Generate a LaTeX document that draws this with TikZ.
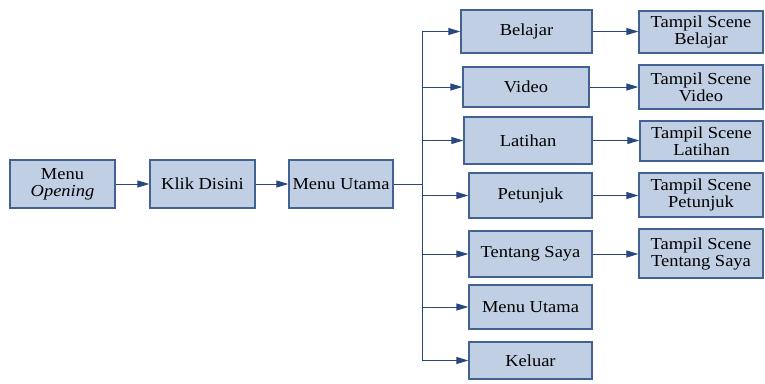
\documentclass[tikz,border=0pt]{standalone}
\usepackage{fontspec}
\setmainfont{Liberation Serif}[FakeStretch=1.1]
\usepackage{tikz}
\usetikzlibrary{arrows.meta}

\definecolor{boxfill}{RGB}{192,207,227}
\definecolor{boxline}{RGB}{66,98,145}
\definecolor{arrline}{RGB}{40,72,125}

\tikzset{
    menubox/.style={draw=boxline, fill=boxfill, line width=1.3pt, align=center,
        inner sep=0pt, font=\fontsize{16.8}{17}\selectfont},
    flow/.style={draw=arrline, line width=1pt, ->},
    >={Triangle[length=12pt,width=7pt]}
}

\begin{document}
\begin{tikzpicture}[x=1pt, y=-1pt]
        \useasboundingbox (0,0) rectangle (765,383);
        \node[menubox, minimum width=105pt, minimum height=48pt] (opening) at (62.5,184) {Menu\\\textit{Opening}};
        \node[menubox, minimum width=105pt, minimum height=48pt] (klik) at (202.5,184) {Klik Disini};
        \node[menubox, minimum width=104pt, minimum height=48pt] (utama) at (341,184) {Menu Utama};
        \node[menubox, minimum width=131pt, minimum height=43pt] (belajar) at (526.5,31.5) {Belajar};
        \node[menubox, minimum width=126pt, minimum height=40pt] (video) at (526,87) {Video};
        \node[menubox, minimum width=128pt, minimum height=47pt] (latihan) at (528,140.5) {Latihan};
        \node[menubox, minimum width=123pt, minimum height=45pt] (petunjuk) at (530.5,195.5) {Petunjuk};
        \node[menubox, minimum width=123pt, minimum height=46pt] (tentang) at (530.5,254) {Tentang Saya};
        \node[menubox, minimum width=123pt, minimum height=44pt] (utamadua) at (530.5,307) {Menu Utama};
        \node[menubox, minimum width=123pt, minimum height=37pt] (keluar) at (530.5,360.5) {Keluar};
        \node[menubox, minimum width=124pt, minimum height=42pt] (sbelajar) at (701,32) {Tampil Scene\\Belajar};
        \node[menubox, minimum width=124pt, minimum height=44pt] (svideo) at (701,87) {Tampil Scene\\Video};
        \node[menubox, minimum width=123pt, minimum height=40pt] (slatihan) at (701.5,141) {Tampil Scene\\Latihan};
        \node[menubox, minimum width=124pt, minimum height=44pt] (spetunjuk) at (701,195) {Tampil Scene\\Petunjuk};
        \node[menubox, minimum width=124pt, minimum height=49pt] (stentang) at (701,253.5) {Tampil Scene\\Tentang Saya};
        \coordinate (fork) at (422,184);
        \draw[flow] (opening) -- (klik);
        \draw[flow] (klik) -- (utama);
        \draw[draw=arrline, line width=1pt] (utama.east) -- (fork);
        \draw[draw=arrline, line width=1pt] (fork |- belajar.west) -- (fork |- keluar.west);
        \foreach \item in {belajar, video, latihan, petunjuk, tentang, utamadua, keluar}
            \draw[flow] (fork |- \item.west) -- (\item.west);
        \foreach \item/\scene in {belajar/sbelajar, video/svideo, latihan/slatihan, petunjuk/spetunjuk, tentang/stentang}
            \draw[flow] (\item.east) -- (\item.east -| \scene.west);
    \end{tikzpicture}
\end{document}
